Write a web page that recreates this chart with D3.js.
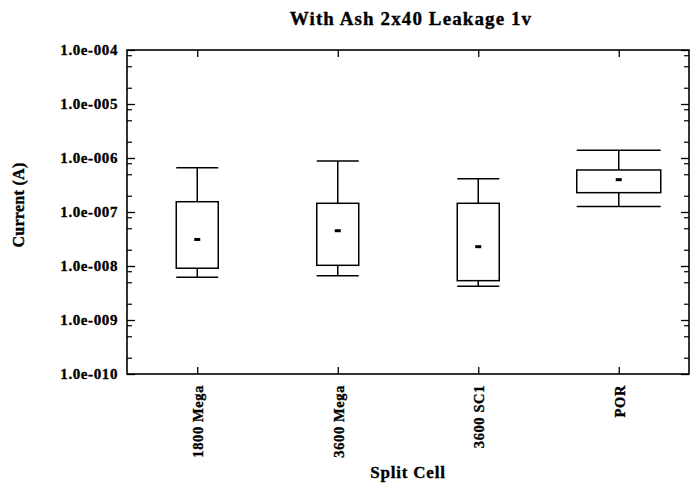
<!DOCTYPE html>
<html><head><meta charset="utf-8">
<script src="https://cdn.jsdelivr.net/npm/d3@7"></script>
<style>body{margin:0;background:#fff}svg text{font-family:"Liberation Serif","Times New Roman",serif;font-weight:bold;fill:#000;stroke:#000;stroke-width:0.35px}</style>
</head><body><svg id="c" width="696" height="485"></svg>
<script>
const categories = ["1800 Mega", "3600 Mega", "3600 SC1", "POR"];
const whiskerLow  = [6.2e-9, 6.6e-9, 4.2e-9, 1.26e-7];
const boxLow      = [9.1e-9, 1.03e-8, 5.35e-9, 2.28e-7];
const means       = [3.1e-8, 4.5e-8, 2.28e-8, 3.97e-7];
const boxHigh     = [1.55e-7, 1.45e-7, 1.45e-7, 6.0e-7];
const whiskerHigh = [6.6e-7, 8.8e-7, 4.14e-7, 1.39e-6];
const relWidth    = [1, 1, 1, 2];
const yTickValues = [1e-10, 1e-9, 1e-8, 1e-7, 1e-6, 1e-5, 1e-4];
const yTickLabels = ["1.0e-010","1.0e-009","1.0e-008","1.0e-007","1.0e-006","1.0e-005","1.0e-004"];
const title = "With Ash 2x40 Leakage 1v";
const xTitle = "Split Cell";
const yTitle = "Current (A)";

const svg = d3.select("#c");
const L = 127, R = 689, T = 50, B = 374;
const x = d3.scalePoint().domain(categories).range([L, R]).padding(0.5);
const y = d3.scaleLog().domain([1e-10, 1e-4]).range([B, T]);
const baseW = 42;

// minor ticks at 2,5,8 per decade
const minor = [];
yTickValues.slice(0, -1).forEach(d => [2, 5, 8].forEach(m => minor.push(d * m)));

function clean(sel, w) { sel.select(".domain").remove(); sel.selectAll("line").attr("stroke", "#000").attr("stroke-width", w); }

const ga = svg.append("g").attr("transform", `translate(${L},0)`)
  .call(d3.axisLeft(y).tickValues(yTickValues).tickFormat((d, i) => yTickLabels[i]).tickSizeInner(-8).tickSizeOuter(0).tickPadding(9));
clean(ga, 1.3);
ga.selectAll("text").attr("font-size", 15).attr("letter-spacing", 0.6).attr("text-anchor", "end");
clean(svg.append("g").attr("transform", `translate(${L},0)`).call(d3.axisLeft(y).tickValues(minor).tickSize(-5).tickFormat("")), 1.2);
clean(svg.append("g").attr("transform", `translate(${R},0)`).call(d3.axisRight(y).tickValues(yTickValues).tickSize(-8).tickFormat("")), 1.3);
clean(svg.append("g").attr("transform", `translate(${R},0)`).call(d3.axisRight(y).tickValues(minor).tickSize(-5).tickFormat("")), 1.2);
clean(svg.append("g").attr("transform", `translate(0,${T})`).call(d3.axisTop(x).tickSize(-7).tickFormat("")), 1.3);
clean(svg.append("g").attr("transform", `translate(0,${B})`).call(d3.axisBottom(x).tickSize(-7).tickFormat("")), 1.3);

// x labels
categories.forEach(c => {
  svg.append("text").attr("transform", `translate(${x(c) + 1},${B + 11}) rotate(-90)`)
    .attr("text-anchor", "end").attr("dy", "0.35em").attr("font-size", 14.5).attr("letter-spacing", 0.6).text(c);
});
// frame
svg.append("rect").attr("x", L).attr("y", T).attr("width", R - L).attr("height", B - T)
  .attr("fill", "none").attr("stroke", "#000").attr("stroke-width", 1.6);

// boxes
categories.forEach((c, i) => {
  const cx = x(c), w = baseW * relWidth[i];
  const bg = svg.append("g").attr("stroke", "#000").attr("stroke-width", 1.5).attr("fill", "none");
  bg.append("line").attr("x1", cx).attr("x2", cx).attr("y1", y(whiskerHigh[i])).attr("y2", y(boxHigh[i]));
  bg.append("line").attr("x1", cx).attr("x2", cx).attr("y1", y(boxLow[i])).attr("y2", y(whiskerLow[i]));
  bg.append("line").attr("x1", cx - w / 2).attr("x2", cx + w / 2).attr("y1", y(whiskerHigh[i])).attr("y2", y(whiskerHigh[i]));
  bg.append("line").attr("x1", cx - w / 2).attr("x2", cx + w / 2).attr("y1", y(whiskerLow[i])).attr("y2", y(whiskerLow[i]));
  bg.append("rect").attr("x", cx - w / 2).attr("y", y(boxHigh[i])).attr("width", w).attr("height", y(boxLow[i]) - y(boxHigh[i]));
  svg.append("rect").attr("x", cx - 3).attr("y", y(means[i]) - 1.5).attr("width", 6).attr("height", 3).attr("fill", "#000");
});

svg.append("text").attr("x", 411).attr("y", 25).attr("text-anchor", "middle").attr("font-size", 19).attr("letter-spacing", 1.1).text(title);
svg.append("text").attr("x", 408).attr("y", 478).attr("text-anchor", "middle").attr("font-size", 17).attr("letter-spacing", 0.8).text(xTitle);
svg.append("text").attr("transform", `translate(24,205) rotate(-90)`).attr("text-anchor", "middle").attr("font-size", 16).attr("letter-spacing", 0.3).text(yTitle);
</script></body></html>
